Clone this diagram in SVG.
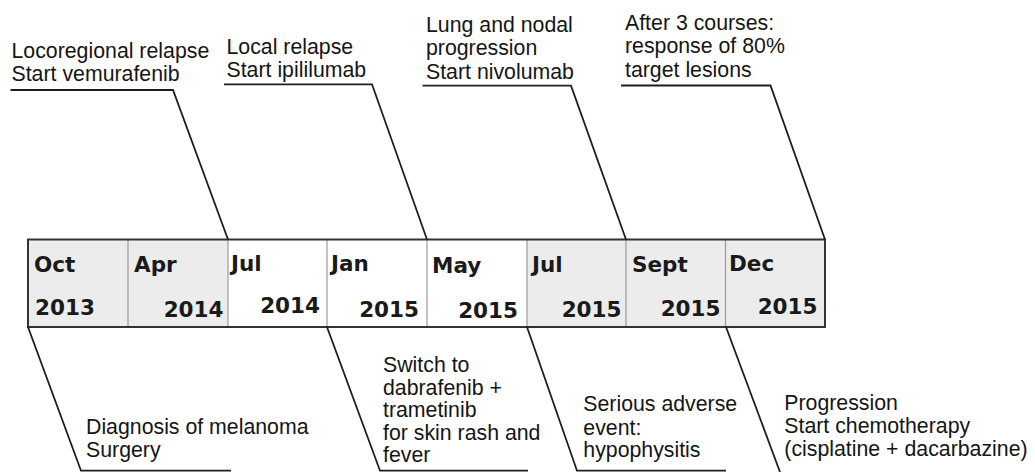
<svg xmlns="http://www.w3.org/2000/svg" width="1035" height="472" viewBox="0 0 1035 472">
<style>
.lbl{font-family:"Liberation Sans",Arial,sans-serif;font-size:21.3px;fill:#151515}
.mo{font-family:"DejaVu Sans",Verdana,sans-serif;font-weight:bold;font-size:21.5px;fill:#1a1a1a}
.yr{font-family:"DejaVu Sans",Verdana,sans-serif;font-weight:bold;font-size:21.5px;fill:#1a1a1a;text-anchor:end}
.gray{fill:#ececec}
.white{fill:#ffffff}
.div{stroke:#9a9a9a;stroke-width:1.2}
.conn{fill:none;stroke:#1e1e1e;stroke-width:1.8}
</style>
<rect width="1035" height="472" fill="#ffffff"/>
<g id="timeline">
<rect class="gray" x="28" y="239.5" width="200" height="87.5"/>
<rect class="white" x="228" y="239.5" width="299" height="87.5"/>
<rect class="gray" x="527" y="239.5" width="298" height="87.5"/>
<line class="div" x1="128" y1="240" x2="128" y2="327"/>
<line class="div" x1="228" y1="240" x2="228" y2="327"/>
<line class="div" x1="327" y1="240" x2="327" y2="327"/>
<line class="div" x1="427" y1="240" x2="427" y2="327"/>
<line class="div" x1="527" y1="240" x2="527" y2="327"/>
<line class="div" x1="626" y1="240" x2="626" y2="327"/>
<line class="div" x1="725.5" y1="240" x2="725.5" y2="327"/>
<rect x="28" y="239.5" width="797" height="87.5" fill="none" stroke="#333333" stroke-width="2"/>
</g>
<g id="cell-oct2013"><text class="mo" x="34" y="271.5">Oct</text><text class="mo" x="35" y="315">2013</text></g>
<g id="cell-apr2014"><text class="mo" x="134" y="271.5">Apr</text><text class="yr" x="223.5" y="317">2014</text></g>
<g id="cell-jul2014"><text class="mo" x="231" y="270.5">Jul</text><text class="yr" x="320" y="313">2014</text></g>
<g id="cell-jan2015"><text class="mo" x="331" y="270.5">Jan</text><text class="yr" x="419" y="317">2015</text></g>
<g id="cell-may2015"><text class="mo" x="432" y="272.5">May</text><text class="yr" x="518" y="317.5">2015</text></g>
<g id="cell-jul2015"><text class="mo" x="532" y="272">Jul</text><text class="yr" x="621.5" y="316.5">2015</text></g>
<g id="cell-sept2015"><text class="mo" x="632" y="271.5">Sept</text><text class="yr" x="720.5" y="316">2015</text></g>
<g id="cell-dec2015"><text class="mo" x="729" y="270.5">Dec</text><text class="yr" x="817.5" y="313.5">2015</text></g>
<g id="connectors">
<path class="conn" d="M10.5,90 H173 L228,239.5"/>
<path class="conn" d="M224,84.3 H372 L427,239.5"/>
<path class="conn" d="M422.5,85.7 H571 L626,239.5"/>
<path class="conn" d="M621,85.5 H770.5 L825,239.5"/>
<path class="conn" d="M28,327 L81,470.7 H231"/>
<path class="conn" d="M327,327 L380,470.7 H528"/>
<path class="conn" d="M527,327 L577,470.7 H726"/>
<path class="conn" d="M726,327 L780,472"/>
</g>
<g id="note-vemurafenib"><text class="lbl" x="11.5" y="57.5">Locoregional relapse</text><text class="lbl" x="11.5" y="80.7">Start vemurafenib</text></g>
<g id="note-ipililumab"><text class="lbl" x="226.5" y="54">Local relapse</text><text class="lbl" x="226.5" y="77.3">Start ipililumab</text></g>
<g id="note-nivolumab"><text class="lbl" x="426" y="31.7">Lung and nodal</text><text class="lbl" x="426" y="54.7">progression</text><text class="lbl" x="426" y="79.3">Start nivolumab</text></g>
<g id="note-response"><text class="lbl" x="625" y="29.5">After 3 courses:</text><text class="lbl" x="625" y="53.3">response of 80%</text><text class="lbl" x="625" y="76.7">target lesions</text></g>
<g id="note-diagnosis"><text class="lbl" x="86" y="434.3">Diagnosis of melanoma</text><text class="lbl" x="86" y="456.8">Surgery</text></g>
<g id="note-switch"><text class="lbl" x="383" y="372.3">Switch to</text><text class="lbl" x="383" y="395">dabrafenib +</text><text class="lbl" x="383" y="417">trametinib</text><text class="lbl" x="383" y="439.7">for skin rash and</text><text class="lbl" x="383" y="461.7">fever</text></g>
<g id="note-adverse"><text class="lbl" x="583.3" y="410.7">Serious adverse</text><text class="lbl" x="583.3" y="434.5">event:</text><text class="lbl" x="583.3" y="457.3">hypophysitis</text></g>
<g id="note-progression"><text class="lbl" x="784.3" y="410">Progression</text><text class="lbl" x="784.3" y="433.3">Start chemotherapy</text><text class="lbl" x="784.3" y="456">(cisplatine + dacarbazine)</text></g>
</svg>
